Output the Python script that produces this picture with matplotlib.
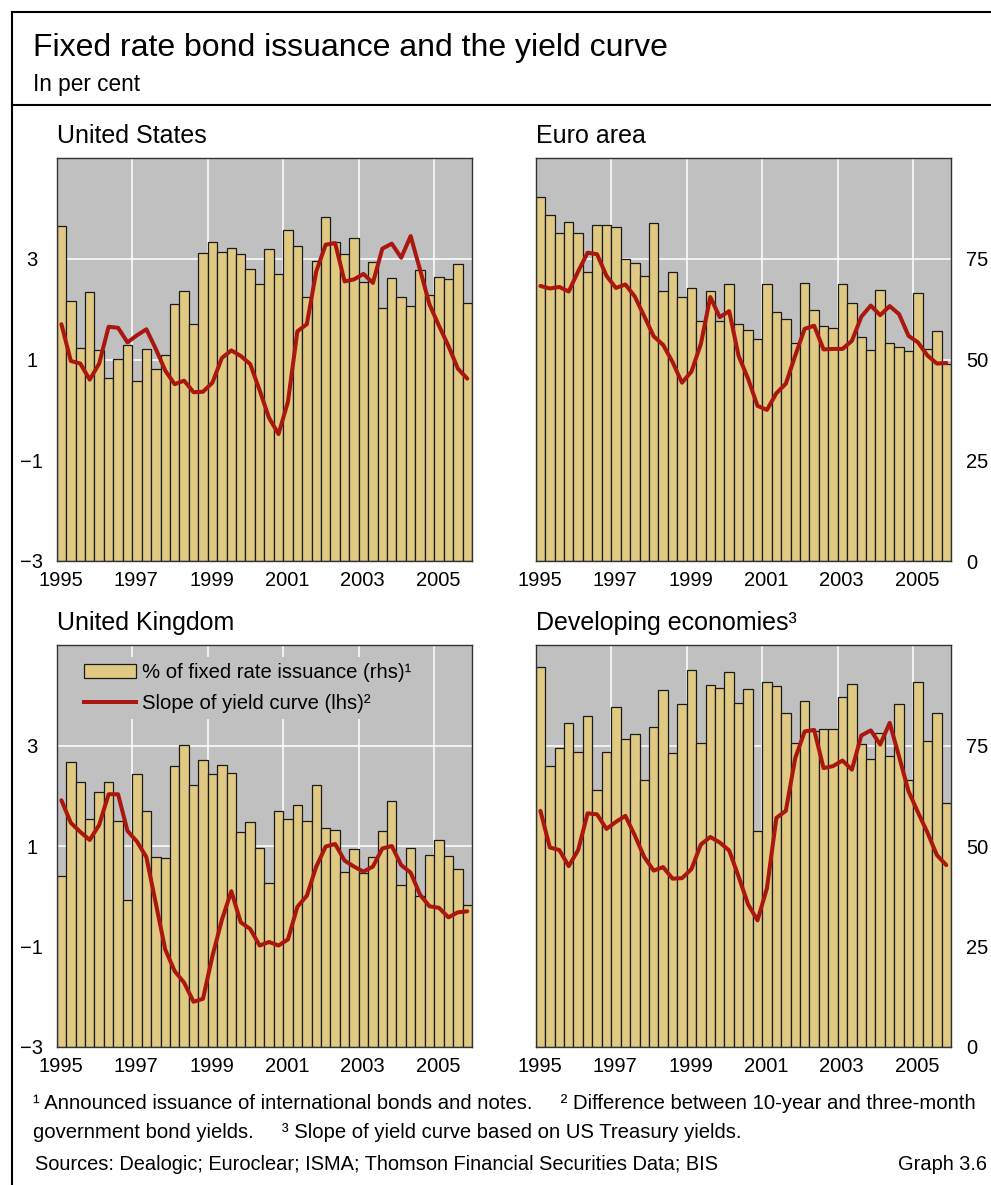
import matplotlib
matplotlib.use('Agg')
import matplotlib.pyplot as plt
from matplotlib.lines import Line2D
from matplotlib.patches import Patch
import numpy as np

plt.rcParams['font.family'] = ['Liberation Sans', 'DejaVu Sans']

# quarterly data, 1995Q1 - 2005Q4
year_labels = ['1995', '1997', '1999', '2001', '2003', '2005']

# % of fixed rate issuance (rhs)
us_fixed = [83.1, 64.6, 52.9, 66.8, 52.4, 45.4, 50.2, 53.6, 44.7, 52.6, 47.7, 51.1, 63.8, 66.9, 58.7,
            76.5, 79.1, 76.6, 77.6, 76.3, 72.5, 68.8, 77.4, 71.2, 82.1, 78.2, 65.4, 74.5, 85.3, 79.1,
            76.3, 80.1, 69.3, 74.2, 62.9, 70.2, 65.5, 63.3, 72.1, 66.1, 70.4, 70.0, 73.8, 64.1]
euro_fixed = [90.4, 85.8, 81.5, 84.2, 81.5, 71.6, 83.3, 83.3, 82.9, 75.0, 74.0, 70.8, 83.8, 66.9, 71.6,
              65.5, 67.8, 59.5, 67.0, 59.6, 68.8, 58.9, 57.4, 55.2, 68.8, 61.9, 60.1, 54.1, 69.0, 62.2,
              58.3, 57.8, 68.8, 64.0, 55.6, 52.4, 67.3, 54.1, 53.1, 52.2, 66.6, 52.5, 57.0, 49.0]
uk_fixed = [42.6, 71.0, 65.8, 56.6, 63.4, 65.8, 56.2, 36.6, 67.8, 58.7, 47.2, 46.9, 69.8, 75.2, 65.1,
            71.5, 67.8, 70.2, 68.2, 53.4, 56.0, 49.6, 40.8, 58.7, 56.7, 60.2, 56.3, 65.1, 54.4, 54.0,
            43.5, 49.3, 43.3, 47.2, 53.7, 61.1, 40.3, 49.6, 37.5, 47.8, 51.4, 47.4, 44.2, 35.4]
dev_fixed = [94.6, 70.0, 74.4, 80.7, 73.3, 82.4, 64.0, 73.5, 84.6, 76.7, 77.9, 66.3, 79.5, 88.7, 73.1,
             85.4, 93.8, 75.7, 90.1, 89.3, 93.3, 85.6, 89.0, 53.7, 90.8, 89.9, 83.2, 75.7, 86.1, 78.7,
             79.2, 79.0, 87.0, 90.3, 75.4, 71.7, 78.2, 72.5, 85.4, 66.3, 90.7, 76.2, 83.2, 60.8]

# slope of yield curve (lhs)
us_slope = [1.70, 0.97, 0.92, 0.60, 0.92, 1.65, 1.63, 1.34, 1.48, 1.60, 1.21, 0.78, 0.51, 0.58, 0.35,
            0.36, 0.54, 1.03, 1.18, 1.07, 0.91, 0.39, -0.16, -0.48, 0.16, 1.56, 1.70, 2.75, 3.28, 3.31,
            2.55, 2.59, 2.70, 2.52, 3.20, 3.30, 3.02, 3.45, 2.78, 2.09, 1.67, 1.27, 0.82, 0.62]
euro_slope = [2.46, 2.41, 2.44, 2.35, 2.75, 3.12, 3.09, 2.66, 2.42, 2.49, 2.25, 1.86, 1.46, 1.29, 0.95,
              0.54, 0.76, 1.31, 2.24, 1.84, 1.96, 1.07, 0.62, 0.08, 0.00, 0.33, 0.52, 1.08, 1.61, 1.67,
              1.20, 1.21, 1.21, 1.37, 1.85, 2.07, 1.88, 2.06, 1.90, 1.47, 1.34, 1.08, 0.92, 0.93]
uk_slope = [1.91, 1.46, 1.28, 1.12, 1.42, 2.03, 2.03, 1.30, 1.09, 0.78, -0.14, -1.06, -1.49, -1.72, -2.10,
            -2.04, -1.19, -0.47, 0.10, -0.52, -0.65, -0.98, -0.91, -0.98, -0.86, -0.21, 0.01, 0.59, 0.99, 1.04,
            0.71, 0.59, 0.49, 0.59, 0.95, 1.00, 0.62, 0.47, 0.03, -0.20, -0.23, -0.42, -0.32, -0.30]
# developing economies use the US Treasury curve (footnote 3)
dev_slope = us_slope

bar_col = '#e0c983'
line_col = '#a9170f'
bg_col = '#c0c0c0'

W, H = 991, 1185
fig = plt.figure(figsize=(W / 100, H / 100), dpi=100)


def add_ax(l, t, r, b):
    return fig.add_axes([l / W, 1 - b / H, (r - l) / W, (b - t) / H])


panels = [
    ('United States', us_fixed, us_slope, (56.7, 158, 472, 561), 'left'),
    ('Euro area', euro_fixed, euro_slope, (535.7, 158, 951, 561), 'right'),
    ('United Kingdom', uk_fixed, uk_slope, (56.7, 645, 472, 1047), 'left'),
    ('Developing economies\u00b3', dev_fixed, dev_slope, (535.7, 645, 951, 1047), 'right'),
]

for name, fixed, slope, box, side in panels:
    x = np.arange(len(fixed)) + 0.5
    ax = add_ax(*box)
    ax.set_facecolor(bg_col)
    ax.set_axisbelow(True)
    ax.bar(x, fixed, width=1.0, color=bar_col, edgecolor='#1a1a1a', linewidth=0.9, zorder=2)
    ax.set_xlim(0, len(fixed))
    ax.set_ylim(0, 100)
    ax.set_yticks([0, 25, 50, 75])
    ax.set_xticks(np.arange(0, len(fixed), 8))
    ax.set_xticklabels([])
    ax.set_xticks(np.arange(0, len(fixed), 8) + 0.4, minor=True)
    ax.set_xticklabels(year_labels, minor=True)
    ax.tick_params(axis='x', which='both', length=0, pad=7, labelsize=14.5)
    ax.grid(True, which='major', color='white', linewidth=1.1)
    for sp in ax.spines.values():
        sp.set_color('#333333')
        sp.set_linewidth(1.0)

    ax2 = ax.twinx()
    ax2.plot(x, slope, color=line_col, linewidth=2.9, solid_joinstyle='round', solid_capstyle='round')
    ax2.set_ylim(-3, 5)
    ax2.set_yticks([-3, -1, 1, 3])
    for sp in ax2.spines.values():
        sp.set_visible(False)

    if side == 'left':
        ax.tick_params(axis='y', left=False, labelleft=False, right=False, labelright=False, length=0)
        ax2.yaxis.tick_left()
        ax2.tick_params(axis='y', length=0, pad=18, labelsize=14.5)
        for lab in ax2.get_yticklabels():
            lab.set_horizontalalignment('center')
    else:
        ax.yaxis.tick_right()
        ax.tick_params(axis='y', length=0, pad=11, labelsize=14.5)
        ax2.tick_params(axis='y', left=False, labelleft=False, right=False, labelright=False, length=0)

    l, t, r, b = box
    fig.text(l / W, 1 - (t - 15) / H, name, fontsize=18, ha='left', va='baseline')

    if name == 'United Kingdom':
        handles = [Patch(facecolor=bar_col, edgecolor='#1a1a1a', linewidth=0.9),
                   Line2D([], [], color=line_col, linewidth=2.9)]
        ax2.legend(handles, ['% of fixed rate issuance (rhs)\u00b9', 'Slope of yield curve (lhs)\u00b2'],
                   loc='upper left', bbox_to_anchor=(0.05, 0.97), fontsize=14.6, frameon=True,
                   facecolor=bg_col, edgecolor='none', framealpha=1, fancybox=False,
                   handlelength=2.6, handleheight=0.62, handletextpad=0.3, labelspacing=0.6,
                   borderpad=0.3, borderaxespad=0)

# header and frame
fig.add_artist(Line2D([12 / W, 1], [1 - 12 / H, 1 - 12 / H], color='black', linewidth=1.5))
fig.add_artist(Line2D([12 / W, 12 / W], [0, 1 - 12 / H], color='black', linewidth=1.5))
fig.add_artist(Line2D([12 / W, 1], [1 - 105 / H, 1 - 105 / H], color='black', linewidth=1.5))

fig.text(33 / W, 1 - 56 / H, 'Fixed rate bond issuance and the yield curve', fontsize=23,
         ha='left', va='baseline')
fig.text(33 / W, 1 - 91 / H, 'In per cent', fontsize=16.3, ha='left', va='baseline')

fig.text(33 / W, 1 - 1109 / H,
         '\u00b9 Announced issuance of international bonds and notes.     '
         '\u00b2 Difference between 10-year and three-month',
         fontsize=14.6, ha='left', va='baseline')
fig.text(33 / W, 1 - 1138 / H,
         'government bond yields.     \u00b3 Slope of yield curve based on US Treasury yields.',
         fontsize=14.6, ha='left', va='baseline')
fig.text(35 / W, 1 - 1170 / H,
         'Sources: Dealogic; Euroclear; ISMA; Thomson Financial Securities Data; BIS',
         fontsize=14.4, ha='left', va='baseline')
fig.text(987 / W, 1 - 1170 / H, 'Graph 3.6', fontsize=14.4, ha='right', va='baseline')

fig.savefig('out.png', dpi=100)
